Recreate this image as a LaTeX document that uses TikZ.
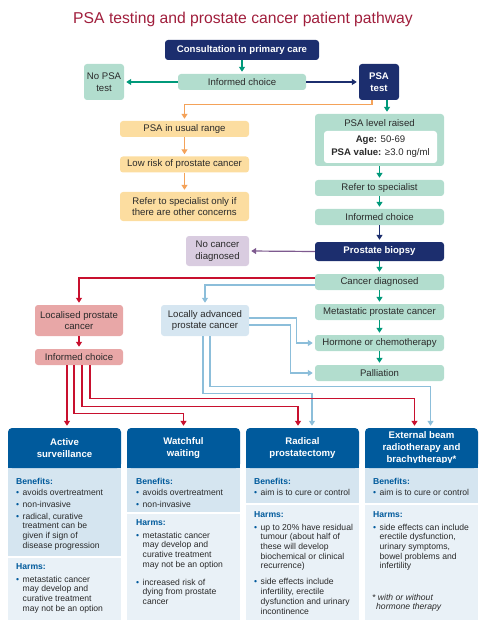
\documentclass[tikz,border=0pt]{standalone}
\usepackage{fontspec}
\setmainfont{Liberation Sans}
\usepackage{xcolor}
\usepackage{tikz}
\usetikzlibrary{arrows.meta}

\definecolor{psatitle}{HTML}{A01E3C}
\definecolor{psanavy}{HTML}{1C2E6E}
\definecolor{psagreen}{HTML}{B2DDCE}
\definecolor{arrgreen}{HTML}{00997A}
\definecolor{psaorange}{HTML}{FCDDA0}
\definecolor{arrorange}{HTML}{F4A259}
\definecolor{psapink}{HTML}{E8A7A7}
\definecolor{arrred}{HTML}{C8102E}
\definecolor{psablue}{HTML}{D6E6F1}
\definecolor{arrblue}{HTML}{8CBEDA}
\definecolor{psapurple}{HTML}{D9CCE0}
\definecolor{arrpurple}{HTML}{7E5A8F}
\definecolor{headblue}{HTML}{005A9C}
\definecolor{benefitbg}{HTML}{D5E5F0}
\definecolor{harmbg}{HTML}{E9F1F7}
\definecolor{inkgrey}{HTML}{2A2A2A}

\newcommand{\panelhead}[1]{\strut\textcolor{headblue}{\bfseries #1}}
\newcommand{\pbul}{\makebox[6.5pt][l]{\textcolor{headblue}{\textbullet}}}
\newcommand{\pind}{\hspace*{6.5pt}}

\tikzset{
  box/.style={rectangle, rounded corners=3pt, inner sep=1pt, align=center,
    text=inkgrey, font=\fontsize{9.6}{11.7}\selectfont},
  navybox/.style={box, fill=psanavy, text=white, font=\fontsize{9.6}{11.7}\selectfont\bfseries},
  greenbox/.style={box, fill=psagreen},
  orangebox/.style={box, fill=psaorange},
  pinkbox/.style={box, fill=psapink},
  bluebox/.style={box, fill=psablue},
  purplebox/.style={box, fill=psapurple},
  header/.style={rectangle, rounded corners=4pt, fill=headblue, text=white, align=center,
    inner sep=0pt, minimum width=113pt, minimum height=40pt,
    font=\fontsize{9.6}{11.8}\selectfont\bfseries},
  paneltext/.style={anchor=north west, align=left, inner sep=0pt, text=inkgrey,
    font=\fontsize{8.6}{9.7}\selectfont},
  arr/.style={line width=1.2pt, -{Triangle[length=5pt,width=6pt]}, shorten >=2pt},
  garr/.style={arr, draw=arrgreen, color=arrgreen},
  narr/.style={arr, draw=psanavy, color=psanavy},
  oarr/.style={arr, draw=arrorange, color=arrorange},
  rarr/.style={arr, draw=arrred, color=arrred},
  barr/.style={arr, draw=arrblue, color=arrblue},
  parr/.style={arr, draw=arrpurple, color=arrpurple},
}

\begin{document}
\begin{tikzpicture}[x=1pt,y=-1pt]
\useasboundingbox (0,0) rectangle (488,628);

\node[anchor=base, text=psatitle, font=\fontsize{15.7}{18}\selectfont] (title) at (243,24)
  {PSA testing and prostate cancer patient pathway};

% top of the pathway
\node[navybox, minimum width=154pt, minimum height=20pt] (consult) at (242,50) {Consultation in primary care};
\node[greenbox, minimum width=128pt, minimum height=16pt] (ic1) at (242,82) {Informed choice};
\node[greenbox, minimum width=40pt, minimum height=36pt] (nopsa) at (104,82) {No PSA\\test};
\node[navybox, minimum width=40pt, minimum height=36pt] (psatest) at (379,82) {PSA\\test};

% PSA in usual range
\node[orangebox, minimum width=129pt, minimum height=16pt] (usual) at (184.5,129) {PSA in usual range};
\node[orangebox, minimum width=129pt, minimum height=16pt] (lowrisk) at (184.5,164.5) {Low risk of prostate cancer};
\node[orangebox, minimum width=129pt, minimum height=29pt] (referonly) at (184.5,206.5) {Refer to specialist only if\\there are other concerns};

% PSA raised
\node[greenbox, minimum width=129pt, minimum height=52pt] (raised) at (379.5,140) {};
\node[box] (raisedlbl) at (379.5,123) {PSA level raised};
\node[box, fill=white, minimum width=113pt, minimum height=32pt, font=\fontsize{9.6}{13}\selectfont] (limits) at (380.5,147)
  {\textbf{Age:} 50-69\\\textbf{PSA value:} ≥3.0 ng/ml};
\node[greenbox, minimum width=129pt, minimum height=16pt] (refer) at (379.5,188) {Refer to specialist};
\node[greenbox, minimum width=129pt, minimum height=16pt] (ic2) at (379.5,217) {Informed choice};
\node[navybox, minimum width=129pt, minimum height=19pt] (biopsy) at (379.5,251.5) {Prostate biopsy};
\node[purplebox, minimum width=63pt, minimum height=30pt] (nocancer) at (217.5,251) {No cancer\\diagnosed};
\node[greenbox, minimum width=129pt, minimum height=16pt] (diag) at (379.5,282) {Cancer diagnosed};
\node[greenbox, minimum width=129pt, minimum height=16pt] (meta) at (379.5,312) {Metastatic prostate cancer};
\node[greenbox, minimum width=129pt, minimum height=16pt] (hormone) at (379.5,343) {Hormone or chemotherapy};
\node[greenbox, minimum width=129pt, minimum height=16pt] (pall) at (379.5,373) {Palliation};

\node[pinkbox, minimum width=88pt, minimum height=31pt] (local) at (79,320.5) {Localised prostate\\cancer};
\node[pinkbox, minimum width=88pt, minimum height=16pt] (ic3) at (79,357) {Informed choice};
\node[bluebox, minimum width=88pt, minimum height=31pt] (advanced) at (205,320.5) {Locally advanced\\prostate cancer};

% treatment panels
\foreach \x/\n/\b/\t in {8/AS/556/{Active\\surveillance}, 127/WW/512/{Watchful\\waiting},
    246/RP/503/{Radical\\prostatectomy}, 365/EB/503/{External beam\\radiotherapy and\\brachytherapy*}}{
  \fill[benefitbg] (\x,468) rectangle (\x+113,\b);
  \fill[harmbg] (\x,\b+1.5) rectangle (\x+113,620);
  \node[header] (h\n) at (\x+56.5,448) {\t};
  \fill[headblue] ([yshift=5pt]h\n.south west) rectangle (h\n.south east);
}

\node[paneltext] (benAS) at (16,477.2) {\panelhead{Benefits:}\\[1.3pt]
  \pbul avoids overtreatment\\[2.3pt]
  \pbul non-invasive\\[2.3pt]
  \pbul radical, curative\\\pind treatment can be\\\pind given if sign of\\\pind disease progression};
\node[paneltext] (harmAS) at (16,562.2) {\panelhead{Harms:}\\[3.3pt]
  \pbul metastatic cancer\\\pind may develop and\\\pind curative treatment\\\pind may not be an option};

\node[paneltext] (benWW) at (136,477.2) {\panelhead{Benefits:}\\[1.3pt]
  \pbul avoids overtreatment\\[2.3pt]
  \pbul non-invasive};
\node[paneltext] (harmWW) at (136,518.2) {\panelhead{Harms:}\\[3.3pt]
  \pbul metastatic cancer\\\pind may develop and\\\pind curative treatment\\\pind may not be an option\\[8.3pt]
  \pbul increased risk of\\\pind dying from prostate\\\pind cancer};

\node[paneltext] (benRP) at (254,477.2) {\panelhead{Benefits:}\\[1.3pt]
  \pbul aim is to cure or control};
\node[paneltext] (harmRP) at (254,510.2) {\panelhead{Harms:}\\[3.3pt]
  \pbul up to 20\% have residual\\\pind tumour (about half of\\\pind these will develop\\\pind biochemical or clinical\\\pind recurrence)\\[6.3pt]
  \pbul side effects include\\\pind infertility, erectile\\\pind dysfunction and urinary\\\pind incontinence};

\node[paneltext] (benEB) at (373,477.2) {\panelhead{Benefits:}\\[1.3pt]
  \pbul aim is to cure or control};
\node[paneltext] (harmEB) at (373,510.2) {\panelhead{Harms:}\\[3.3pt]
  \pbul side effects can include\\\pind erectile dysfunction,\\\pind urinary symptoms,\\\pind bowel problems and\\\pind infertility};
\node[paneltext, font=\fontsize{8.6}{9.7}\selectfont\itshape] (noteEB) at (372,593.2) {\strut* with or without\\\hspace*{4pt}hormone therapy};

% connectors
\draw[garr] (consult.south) -- (ic1.north);
\draw[garr] (ic1.west) -- (nopsa.east);
\draw[narr] (ic1.east) -- (psatest.west);
\draw[oarr] ([xshift=-7pt]psatest.south) -- ++(0,4) -| (usual.north);
\draw[garr] ([xshift=8pt]psatest.south) -- ([xshift=8pt]psatest.south |- raised.north);
\draw[oarr] (usual.south) -- (lowrisk.north);
\draw[oarr] (lowrisk.south) -- (referonly.north);
\foreach \a/\b in {raised/refer, refer/ic2, biopsy/diag, diag/meta, meta/hormone, hormone/pall}
  \draw[garr] (\a.south) -- (\b.north);
\draw[narr] (ic2.south) -- (biopsy.north);
\draw[parr] (biopsy.west) -- (nocancer.east);
\draw[rarr] ([yshift=4pt]diag.west) -| (local.north);
\draw[barr] ([yshift=-3pt]diag.west) -| (advanced.north);
\draw[barr] ([yshift=2.5pt]advanced.east) -- ++(47,0) |- (hormone.west);
\draw[barr] ([yshift=-4.5pt]advanced.east) -- ++(41,0) |- (pall.west);
\draw[rarr] (local.south) -- (ic3.north);
\draw[barr] ([xshift=-2pt]advanced.south) -- ++(0,57) -| ([xshift=9.5pt]hRP.north);
\draw[barr] ([xshift=5pt]advanced.south) -- ++(0,50) -| ([xshift=9pt]hEB.north);
\draw[rarr] ([xshift=-12pt]ic3.south) -- ([xshift=-12pt]ic3.south |- hAS.north);
\draw[rarr] ([xshift=-5pt]ic3.south) -- ++(0,48) -| (hWW.north);
\draw[rarr] ([xshift=3pt]ic3.south) -- ++(0,41) -| ([xshift=-4.5pt]hRP.north);
\draw[rarr] ([xshift=11pt]ic3.south) -- ++(0,33) -| ([xshift=-7pt]hEB.north);
\end{tikzpicture}
\end{document}
